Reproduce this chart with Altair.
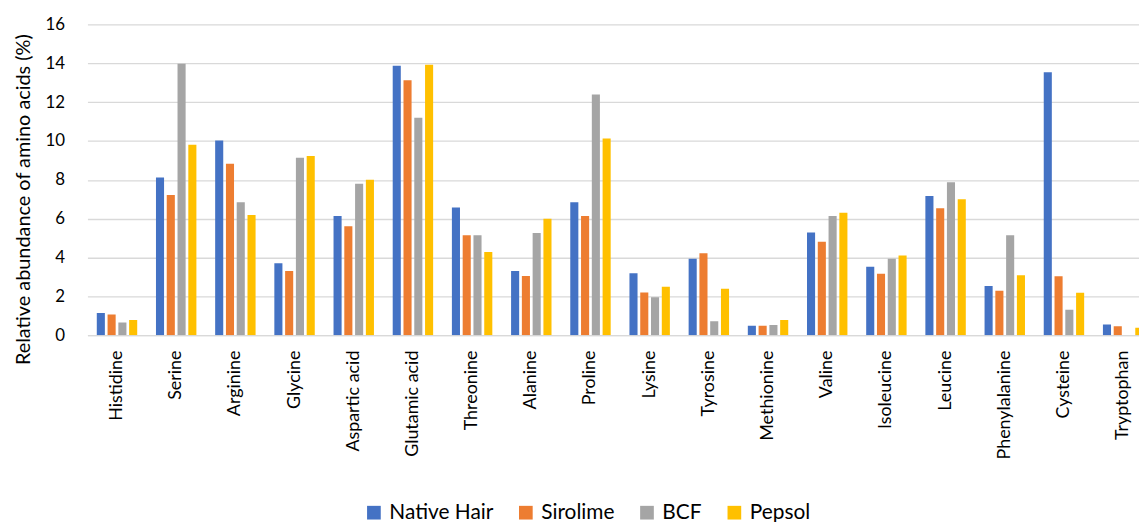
import altair as alt
import pandas as pd

categories = ["Histidine", "Serine", "Arginine", "Glycine", "Aspartic acid", "Glutamic acid",
              "Threonine", "Alanine", "Proline", "Lysine", "Tyrosine", "Methionine", "Valine",
              "Isoleucine", "Leucine", "Phenylalanine", "Cysteine", "Tryptophan"]
series = ["Native Hair", "Sirolime", "BCF", "Pepsol"]
colors = ["#4472C4", "#ED7D31", "#A5A5A5", "#FFC000"]

native = [1.14, 8.12, 10.02, 3.70, 6.13, 13.87, 6.57, 3.31, 6.84, 3.19, 3.94, 0.49, 5.29, 3.52, 7.17, 2.53, 13.53, 0.55]
sirolime = [1.06, 7.22, 8.82, 3.31, 5.61, 13.12, 5.15, 3.05, 6.13, 2.20, 4.22, 0.48, 4.81, 3.16, 6.54, 2.29, 3.04, 0.46]
bcf = [0.65, 13.98, 6.84, 9.13, 7.80, 11.19, 5.14, 5.26, 12.39, 1.95, 0.72, 0.53, 6.14, 3.94, 7.87, 5.14, 1.31, 0.0]
pepsol = [0.78, 9.81, 6.19, 9.22, 8.00, 13.92, 4.28, 5.99, 10.12, 2.49, 2.39, 0.78, 6.30, 4.10, 7.00, 3.09, 2.18, 0.38]

y_ticks = [0, 2, 4, 6, 8, 10, 12, 14, 16]

rows = []
for name, vals in zip(series, [native, sirolime, bcf, pepsol]):
    for c, v in zip(categories, vals):
        rows.append({"Amino": c, "Series": name, "Value": v})
df = pd.DataFrame(rows)

chart = alt.Chart(df).mark_bar(clip=True).encode(
    x=alt.X("Amino:N", sort=categories,
            scale=alt.Scale(range=[0, 1072.8], paddingInner=0.317, paddingOuter=0.158),
            axis=alt.Axis(title=None, labelAngle=270, labelPadding=15, labelFontSize=18,
                          ticks=False, domainColor="#d9d9d9", domainWidth=1.3,
                          labelColor="#000000")),
    xOffset=alt.XOffset("Series:N", sort=series,
                        scale=alt.Scale(paddingInner=0.25, paddingOuter=0)),
    y=alt.Y("Value:Q", scale=alt.Scale(domain=[0, 16]),
            axis=alt.Axis(values=y_ticks, title="Relative abundance of amino acids (%)",
                          grid=True, gridColor="#d9d9d9", gridWidth=1.3, domain=False,
                          ticks=False, labelPadding=23, labelFontSize=17, titleFontSize=20,
                          titleFontWeight="normal", titleX=-54, titleY=176,
                          labelColor="#000000", titleColor="#000000")),
    color=alt.Color("Series:N", sort=series,
                    scale=alt.Scale(domain=series, range=colors),
                    legend=alt.Legend(title=None, orient="none", legendX=278, legendY=481,
                                      direction="horizontal", symbolType="square",
                                      symbolSize=190, labelFontSize=21, columnPadding=22,
                                      labelOffset=5, padding=0, labelColor="#000000",
                                      symbolStrokeWidth=0)),
).properties(
    width=1059, height=313,
    autosize=alt.AutoSizeParams(type="none"),
    padding={"left": 80, "top": 14.7, "right": 0, "bottom": 186},
).configure(font="Lato").configure_view(stroke=None)

chart.save("out.html", embed_options={"renderer": "svg", "actions": False})
